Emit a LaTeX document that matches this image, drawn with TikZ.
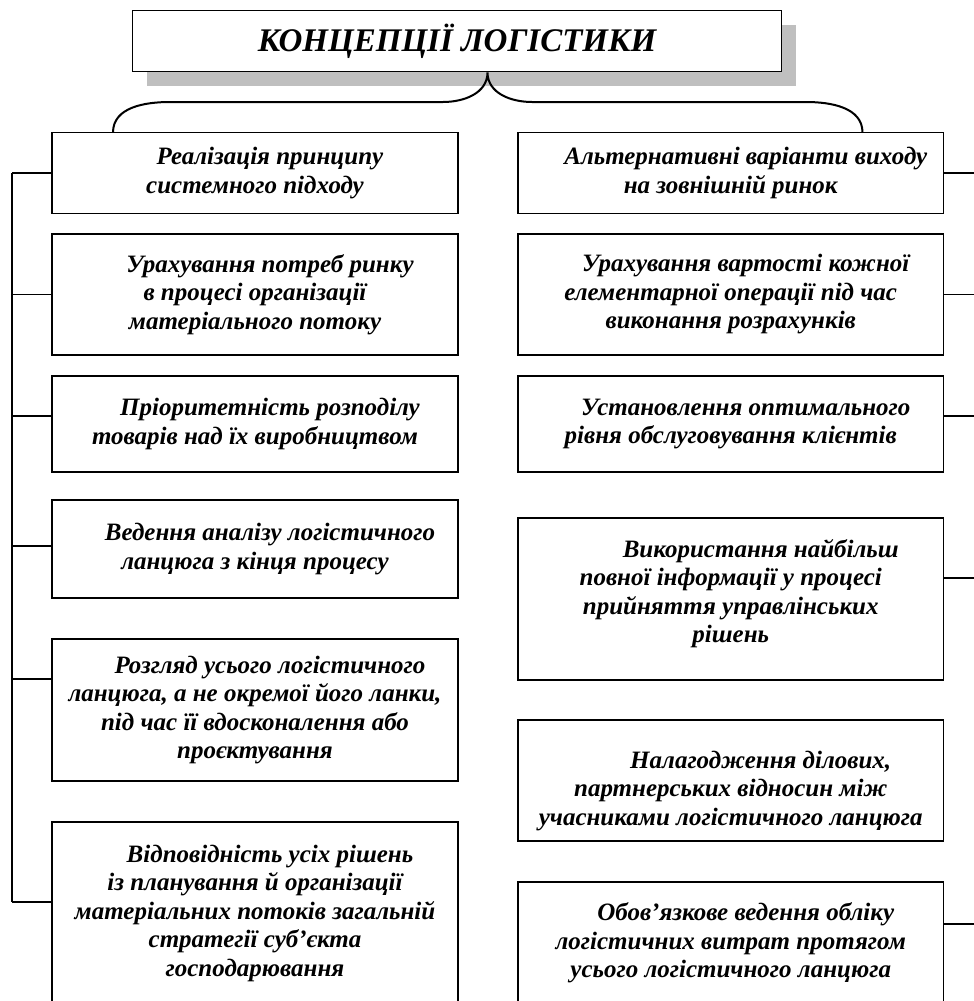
\documentclass[tikz,border=0pt]{standalone}
\usepackage{fontspec}
\setmainfont{Liberation Serif}
\usetikzlibrary{positioning,shadows}
\newcommand{\firstind}{\hspace*{1.2em}}

\begin{document}
\begin{tikzpicture}[
    x=1pt, y=-1pt,
    box/.style={rectangle, draw, line width=1.7pt, outer sep=0pt, align=center, inner sep=2pt, font=\bfseries\itshape\fontsize{25}{28.5}\selectfont},
    leftbox/.style={box, minimum width=406pt},
    rightbox/.style={box, minimum width=425.5pt},
    stub/.style={line width=1.7pt}
]
\useasboundingbox (0,0) rectangle (974,1001);
\clip (0,0) rectangle (974,1001);
\node[draw, fill=white, line width=1.7pt, minimum width=649pt, minimum height=61pt,
    drop shadow={shadow xshift=14pt, shadow yshift=-14pt, fill=black!25, opacity=1},
    font=\bfseries\itshape\fontsize{33}{38}\selectfont] (conc) at (457,41) {КОНЦЕПЦІЇ ЛОГІСТИКИ};

\node[leftbox, minimum height=81pt, anchor=north west] (left1) at (52,132.5)
    {\firstind Реалізація принципу\\ системного підходу};
\node[leftbox, minimum height=121pt, below=20.5pt of left1] (left2)
    {\firstind Урахування потреб ринку\\ в процесі організації\\ матеріального потоку};
\node[leftbox, minimum height=96pt, below=21pt of left2] (left3)
    {\firstind Пріоритетність розподілу\\ товарів над їх виробництвом};
\node[leftbox, minimum height=98pt, below=28pt of left3] (left4)
    {\firstind Ведення аналізу логістичного\\ ланцюга з кінця процесу};
\node[leftbox, minimum height=142pt, below=41pt of left4] (left5)
    {\firstind Розгляд усього логістичного\\ ланцюга, а не окремої його ланки,\\ під час її вдосконалення або\\ проєктування};
\node[leftbox, minimum height=182pt, below=41pt of left5] (left6)
    {\firstind Відповідність усіх рішень\\ із планування й організації\\ матеріальних потоків загальній\\ стратегії суб’єкта\\ господарювання};

\node[rightbox, minimum height=81pt, anchor=north west] (right1) at (518,132.5)
    {\firstind Альтернативні варіанти виходу\\ на зовнішній ринок};
\node[rightbox, minimum height=121pt, below=20.5pt of right1] (right2)
    {\firstind Урахування вартості кожної\\ елементарної операції під час\\ виконання розрахунків};
\node[rightbox, minimum height=96pt, below=21pt of right2] (right3)
    {\firstind Установлення оптимального\\ рівня обслуговування клієнтів};
\node[rightbox, minimum height=162pt, below=46pt of right3] (right4)
    {\firstind\firstind Використання найбільш\\ повної інформації у процесі\\ прийняття управлінських\\ рішень\rule[-16pt]{0pt}{0pt}};
\node[rightbox, minimum height=121pt, below=40pt of right4] (right5)
    {\rule{0pt}{38pt}\firstind\firstind Налагодження ділових,\\ партнерських відносин між\\ учасниками логістичного ланцюга};
\node[rightbox, minimum height=122pt, below=41pt of right5] (right6)
    {\firstind Обов’язкове ведення обліку\\ логістичних витрат протягом\\ усього логістичного ланцюга};

\coordinate (tip) at ([xshift=30.5pt]conc.south);
\coordinate (braceL) at ([xshift=61pt]left1.north west);
\coordinate (braceR) at ([xshift=-81pt]right1.north east);
\draw[line width=2pt] (braceL) to[out=90,in=180] (170,102) -- (443,102)
    to[out=0,in=-90] (tip) to[out=-90,in=180] (532,102) -- (806,102)
    to[out=0,in=90] (braceR);

\coordinate (spine) at (12,0);
\coordinate (edge) at (976,0);
\foreach \n/\dy in {left1/0, left2/0, left3/8, left4/3, left5/31, left6/11}
    \draw[stub] ([yshift=\dy pt]\n.west) -- ([yshift=\dy pt]\n.west -| spine);
\draw[stub] (left1.west -| spine) -- ([yshift=11pt]left6.west -| spine);
\foreach \n/\dy in {right1/0, right2/0, right3/8, right4/21, right6/19}
    \draw[stub] ([yshift=\dy pt]\n.east) -- ([yshift=\dy pt]\n.east -| edge);
\end{tikzpicture}
\end{document}
